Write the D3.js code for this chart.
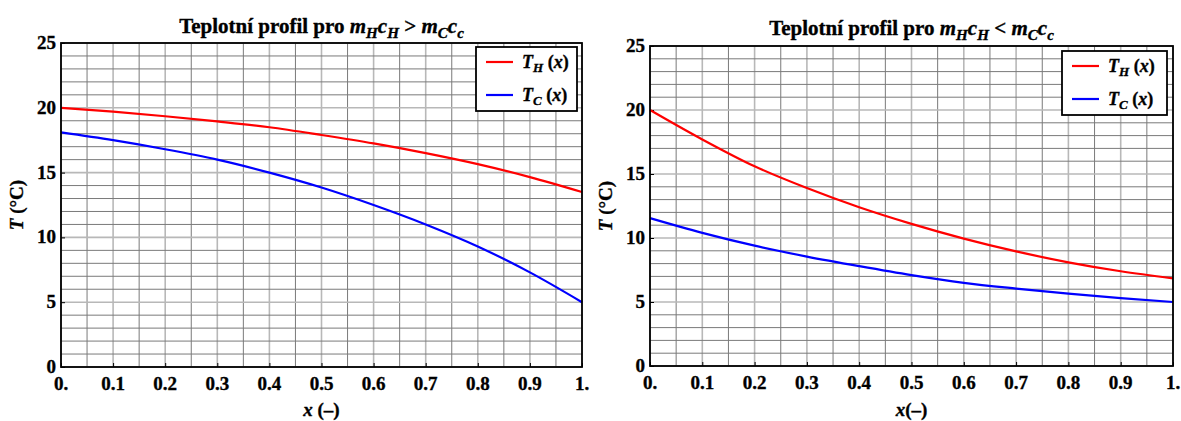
<!DOCTYPE html>
<html><head><meta charset="utf-8">
<script src="https://cdn.jsdelivr.net/npm/d3@7"></script>
<style>
body{margin:0;background:#fff;}
svg text{font-family:"Liberation Serif","DejaVu Serif",serif;font-weight:bold;fill:#000;stroke:#000;stroke-width:0.35;}
</style></head>
<body><svg id="c" width="1181" height="421"></svg>
<script>
const xPos = [0,0.1,0.2,0.3,0.4,0.5,0.6,0.7,0.8,0.9,1.0];
const leftTH = [20,19.7,19.35,18.95,18.5,17.9,17.25,16.5,15.65,14.65,13.5];
const leftTC = [18.1,17.5,16.8,16.0,15.0,13.85,12.5,11.0,9.3,7.3,5.0];
const rightTH = [20,17.7,15.6,13.9,12.4,11.1,9.95,8.95,8.1,7.4,6.85];
const rightTC = [11.55,10.4,9.4,8.55,7.8,7.1,6.5,6.05,5.65,5.3,5.0];
const xTickLabels = ["0.","0.1","0.2","0.3","0.4","0.5","0.6","0.7","0.8","0.9","1."];
const yTicks = [0,5,10,15,20,25];
const seriesColors = ["#ff0000","#0000ff"];

const svg = d3.select("#c");

function subText(sel, parts, size){
  parts.forEach(p=>{
    const t = sel.append("tspan").text(p[0]);
    if(p[1]) t.attr("font-style","italic");
    if(p[2]) t.attr("font-size", size*0.72).attr("dy", size*0.22);
    else if(p[3]) t.attr("dy", -size*0.22);
  });
}

function panel(cfg){
  const g = svg.append("g");
  const x = d3.scaleLinear().domain([0,1]).range([cfg.x0,cfg.x1]);
  const y = d3.scaleLinear().domain([0,25]).range([cfg.y1,cfg.y0]);
  const minorX = d3.range(0,1.0001,0.05);
  g.selectAll(".gx").data(minorX).join("line")
    .attr("x1",d=>x(d)).attr("x2",d=>x(d)).attr("y1",cfg.y0).attr("y2",cfg.y1)
    .attr("stroke",(d,i)=> i%2===0 ? "#b8b8b8" : "#7a7a7a")
    .attr("stroke-width",(d,i)=> i%2===0 ? 1.6 : 1);
  const minorY = d3.range(0,25.001,1);
  g.selectAll(".gy").data(minorY).join("line")
    .attr("y1",d=>y(d)).attr("y2",d=>y(d)).attr("x1",cfg.x0).attr("x2",cfg.x1)
    .attr("stroke",(d)=> d%5===0 ? "#b8b8b8" : "#7a7a7a")
    .attr("stroke-width",(d)=> d%5===0 ? 1.6 : 1);
  g.append("g").attr("transform",`translate(0,${cfg.y1})`)
    .call(d3.axisBottom(x).tickValues(xPos).tickSize(-4).tickFormat(""))
    .call(s=>s.select(".domain").remove()).selectAll("line").attr("stroke","#000");
  g.append("g").attr("transform",`translate(${cfg.x0},0)`)
    .call(d3.axisLeft(y).tickValues(yTicks).tickSize(-4).tickFormat(""))
    .call(s=>s.select(".domain").remove()).selectAll("line").attr("stroke","#000");
  const line = d3.line().x((d,i)=>x(xPos[i])).y(d=>y(d)).curve(d3.curveMonotoneX);
  [cfg.th,cfg.tc].forEach((s,k)=>{
    g.append("path").attr("d",line(s)).attr("fill","none")
      .attr("stroke",seriesColors[k]).attr("stroke-width",2.2);
  });
  g.append("rect").attr("x",cfg.x0).attr("y",cfg.y0)
    .attr("width",cfg.x1-cfg.x0).attr("height",cfg.y1-cfg.y0)
    .attr("fill","none").attr("stroke","#000").attr("stroke-width",1.8);
  g.selectAll(".xl").data(xPos).join("text")
    .attr("x",d=>x(d)).attr("y",cfg.y1+23).attr("text-anchor","middle")
    .attr("font-size",19).text((d,i)=>xTickLabels[i]);
  g.selectAll(".yl").data(yTicks).join("text")
    .attr("x",cfg.x0-5).attr("y",d=>y(d)+6).attr("text-anchor","end")
    .attr("font-size",19).text(d=>d);
  const tt = g.append("text").attr("x",(cfg.x0+cfg.x1)/2).attr("y",cfg.titleY)
    .attr("text-anchor","middle").attr("font-size",21);
  tt.append("tspan").text("Teplotní profil pro ");
  subText(tt,[["m",1],["H",1,1],["c",1,0,1],["H",1,1],[" "+cfg.sign+" ",0,0,1],["m",1],["C",1,1],["c",1,0,1],["c",1,1]],21);
  const xl = g.append("text").attr("x",(cfg.x0+cfg.x1)/2).attr("y",416)
    .attr("text-anchor","middle").attr("font-size",19);
  xl.append("tspan").attr("font-style","italic").text("x");
  xl.append("tspan").text(cfg.xlab);
  const yl = g.append("text").attr("transform",`translate(${cfg.x0-38},${(cfg.y0+cfg.y1)/2}) rotate(-90)`)
    .attr("text-anchor","middle").attr("font-size",19);
  yl.append("tspan").attr("font-style","italic").text("T");
  yl.append("tspan").text(" (°C)");
  const L = g.append("g");
  L.append("rect").attr("x",cfg.lx).attr("y",cfg.ly).attr("width",cfg.lw).attr("height",64)
    .attr("fill","#fff").attr("stroke","#000").attr("stroke-width",1.8);
  ["H","C"].forEach((s,k)=>{
    const yy = cfg.ly+15+k*33;
    L.append("line").attr("x1",cfg.lx+10).attr("x2",cfg.lx+37).attr("y1",yy).attr("y2",yy)
      .attr("stroke",seriesColors[k]).attr("stroke-width",2.2);
    const t = L.append("text").attr("x",cfg.lx+46).attr("y",yy+6).attr("font-size",18);
    t.append("tspan").attr("font-style","italic").text("T");
    t.append("tspan").attr("font-style","italic").attr("font-size",13).attr("dy",4).text(s);
    t.append("tspan").attr("dy",-4).text(" (");
    t.append("tspan").attr("font-style","italic").text("x");
    t.append("tspan").text(")");
  });
}

panel({x0:61,x1:582,y0:43,y1:367,th:leftTH,tc:leftTC,sign:">",xlab:" (–)",titleY:33,lx:476,ly:47,lw:101});
panel({x0:650,x1:1173,y0:46,y1:366,th:rightTH,tc:rightTC,sign:"<",xlab:"(–)",titleY:35,lx:1062,ly:51,lw:105});
</script></body></html>
